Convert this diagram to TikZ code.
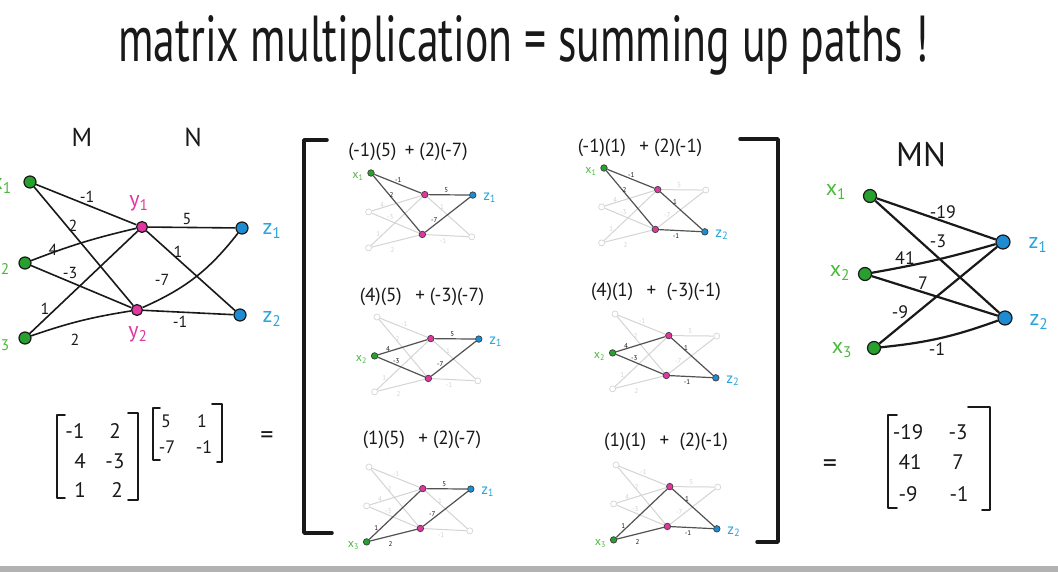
\documentclass[tikz,border=0pt]{standalone}
\usepackage{fontspec}
\setmainfont{PT Sans}
\usepackage{graphicx}
\pgfdeclarelayer{back}\pgfdeclarelayer{bg}\pgfsetlayers{back,bg,main}
\definecolor{xg}{RGB}{40,160,45}
\definecolor{xgl}{RGB}{75,185,60}
\definecolor{yp}{RGB}{225,55,160}
\definecolor{zb}{RGB}{30,140,210}
\definecolor{zbl}{RGB}{40,165,220}
\definecolor{ink}{RGB}{25,25,25}
\definecolor{pale}{RGB}{212,212,212}
\tikzset{
  every node/.style={inner sep=0pt, text=ink},
  bx/.style={circle, draw=ink, line width=1.2pt, fill=xg, minimum size=12pt},
  by/.style={bx, fill=yp, minimum size=11pt},
  bz/.style={bx, fill=zb},
  bedge/.style={draw=ink, line width=1.6pt},
  redge/.style={draw=ink, line width=2.2pt},
  blab/.style={font=\fontsize{16}{16}\selectfont},
  rlab/.style={font=\fontsize{18}{18}\selectfont},
  xlab/.style={font=\fontsize{22}{22}\selectfont, text=xgl},
  ylab/.style={font=\fontsize{22}{22}\selectfont, text=yp},
  zlab/.style={font=\fontsize{22}{22}\selectfont, text=zbl},
  head/.style={font=\fontsize{26}{26}\selectfont},
  mx/.style={circle, draw=ink!85, line width=0.7pt, fill=xg, minimum size=6.5pt},
  my/.style={mx, fill=yp},
  mz/.style={mx, fill=zb},
  mlo/.style={circle, draw=pale, line width=0.7pt, fill=white, minimum size=6pt},
  mhi/.style={draw=ink!75, line width=1.2pt},
  mloe/.style={draw=pale, line width=1pt},
  mlhi/.style={font=\fontsize{7}{7}\selectfont, text=ink},
  mllo/.style={font=\fontsize{7}{7}\selectfont, text=pale},
  mxlab/.style={font=\fontsize{12}{12}\selectfont, text=xgl},
  mzlab/.style={font=\fontsize{15}{15}\selectfont, text=zbl},
  expr/.style={font=\fontsize{19}{19}\selectfont},
  mat/.style={font=\fontsize{21}{21}\selectfont},
  brk/.style={draw=ink, line width=1.6pt, line cap=round, line join=round},
  bigbrk/.style={draw=ink, line width=3.5pt, line cap=round, line join=round}
}
% mini graph helpers
\newcommand\mnX[3]{\ifnum#1=#3\relax\node[mx] (x#1) at #2 {};\else\node[mlo] (x#1) at #2 {};\fi}
\newcommand\mnZ[3]{\ifnum#1=#3\relax\node[mz] (z#1) at #2 {};\else\node[mlo] (z#1) at #2 {};\fi}
\newcommand\mxy[5]{\ifnum#1=#3\relax
   \draw[mhi] (x#1) -- (y#2); \node[mlhi] (lx#1y#2) at #5 {#4};
  \else
   \begin{pgfonlayer}{bg}\draw[mloe] (x#1) -- (y#2);\end{pgfonlayer}
   \node[mllo] (lx#1y#2) at #5 {#4};\fi}
\newcommand\myz[5]{\ifnum#2=#3\relax
   \draw[mhi] (y#1) -- (z#2); \node[mlhi] (ly#1z#2) at #5 {#4};
  \else
   \begin{pgfonlayer}{bg}\draw[mloe] (y#1) -- (z#2);\end{pgfonlayer}
   \node[mllo] (ly#1z#2) at #5 {#4};\fi}
\newcommand\minigraph[4]{%
\begin{scope}[shift={#1}, scale=0.48, name prefix=#2-]
  \mnX{1}{(0,0)}{#3}
  \mnX{2}{(-5,81)}{#3}
  \mnX{3}{(-5,156)}{#3}
  \node[my] (y1) at (112,45) {};
  \node[my] (y2) at (107,128) {};
  \mnZ{1}{(212,46)}{#4}
  \mnZ{2}{(210,133)}{#4}
  \mxy{1}{1}{#3}{-1}{(57,14)}
  \mxy{1}{2}{#3}{2}{(43,45)}
  \mxy{2}{1}{#3}{4}{(23,66)}
  \mxy{2}{2}{#3}{-3}{(40,91)}
  \mxy{3}{1}{#3}{1}{(15,128)}
  \mxy{3}{2}{#3}{2}{(45,160)}
  \myz{1}{1}{#4}{5}{(157,36)}
  \myz{1}{2}{#4}{1}{(148,70)}
  \myz{2}{1}{#4}{-7}{(132,98)}
  \myz{2}{2}{#4}{-1}{(150,142)}
  \node[mxlab, anchor=east] (xl) at ([xshift=-8pt,yshift=-8pt]x#3.west) {x\textsubscript{#3}};
  \node[mzlab, anchor=west] (zl) at ([xshift=14pt,yshift=-6pt]z#4.east) {z\textsubscript{#4}};
\end{scope}}
\begin{document}
\begin{tikzpicture}[x=1pt,y=-1pt]
\useasboundingbox (0,0) rectangle (1058,572);
\begin{pgfonlayer}{back}
\fill[white] (0,0) rectangle (1058,572);
\fill[gray!60] (0,566) rectangle (1058,572);
\end{pgfonlayer}

% title
\node[anchor=base west] (title) at (118,62) {\resizebox{810pt}{46pt}{matrix multiplication = summing up paths !}};

% ---- left graph
\node[head] (M) at (82,137) {M};
\node[head] (N) at (193,137) {N};
\node[bx] (x1) at (30,182) {};
\node[bx] (x2) at (25,263) {};
\node[bx] (x3) at (25,338) {};
\node[by] (y1) at (142,227) {};
\node[by] (y2) at (137,310) {};
\node[bz] (z1) at (242,228) {};
\node[bz] (z2) at (240,315) {};
\draw[bedge] (x1) -- (y1);
\draw[bedge] (x1) -- (y2);
\draw[bedge] (x2) to[bend left=4] (y1);
\draw[bedge] (x2) -- (y2);
\draw[bedge] (x3) -- (y1);
\draw[bedge] (x3) to[bend left=5] (y2);
\draw[bedge] (y1) -- (z1);
\draw[bedge] (y1) -- (z2);
\draw[bedge] (y2) to[bend right=14] (z1);
\draw[bedge] (y2) -- (z2);
\node[blab] (l11) at (87,197) {-1};
\node[blab] (l12) at (73,226) {2};
\node[blab] (l21) at (53,250) {4};
\node[blab] (l22) at (70,273) {-3};
\node[blab] (l31) at (45,309) {1};
\node[blab] (l32) at (75,340) {2};
\node[blab] (m11) at (187,219) {5};
\node[blab] (m12) at (178,252) {1};
\node[blab] (m21) at (162,280) {-7};
\node[blab] (m22) at (180,322) {-1};
\node[xlab, anchor=east] (x1l) at (12,186) {x\textsubscript{1}};
\node[xlab, anchor=east] (x2l) at (10,267) {x\textsubscript{2}};
\node[xlab, anchor=east] (x3l) at (10,343) {x\textsubscript{3}};
\node[ylab] (y1l) at (139,203) {y\textsubscript{1}};
\node[ylab] (y2l) at (138,334) {y\textsubscript{2}};
\node[zlab] (z1l) at (272,231) {z\textsubscript{1}};
\node[zlab] (z2l) at (272,319) {z\textsubscript{2}};

% ---- left matrices
\draw[brk] (65,415) -- (57,415) -- (57,498) -- (65,498);
\draw[brk] (128,413) -- (138,413) -- (138,500) -- (128,500);
\node[mat] (a11) at (75,431) {-1};
\node[mat] (a12) at (115,431) {2};
\node[mat] (a21) at (80,461) {4};
\node[mat] (a22) at (115,461) {-3};
\node[mat] (a31) at (80,490) {1};
\node[mat] (a32) at (117,490) {2};
\draw[brk] (160,408) -- (153,408) -- (153,460) -- (160,460);
\draw[brk] (212,404) -- (222,404) -- (222,462) -- (217,462);
\node[mat, font=\fontsize{18}{18}\selectfont] (b11) at (166,421) {5};
\node[mat, font=\fontsize{18}{18}\selectfont] (b12) at (202,421) {1};
\node[mat, font=\fontsize{18}{18}\selectfont] (b21) at (167,447) {-7};
\node[mat, font=\fontsize{18}{18}\selectfont] (b22) at (204,447) {-1};
\node[mat, font=\fontsize{26}{26}\selectfont] (eq1) at (267,438) {=};

% ---- big bracket
\draw[bigbrk] (327,140) -- (304,140) -- (304,533) -- (332,533);
\draw[bigbrk] (740,139) -- (778,139) -- (778,542) -- (757,542);

% ---- mini graphs
\node[expr] (e11) at (408,152) {(-1)(5)\, + (2)(-7)};
\node[expr] (e12) at (640,148) {(-1)(1)\;\, + (2)(-1)};
\node[expr] (e21) at (422,297) {(4)(5)\;\, + (-3)(-7)};
\node[expr] (e22) at (656,292) {(4)(1)\;\, + \;(-3)(-1)};
\node[expr] (e31) at (422,440) {(1)(5)\;\, + (2)(-7)};
\node[expr] (e32) at (666,442) {(1)(1)\;\, + \;(2)(-1)};
\minigraph{(371,173)}{g11}{1}{1}
\minigraph{(604,168)}{g12}{1}{2}
\minigraph{(377,317)}{g21}{2}{1}
\minigraph{(615,314)}{g22}{2}{2}
\minigraph{(369,467)}{g31}{3}{1}
\minigraph{(616,465)}{g32}{3}{2}

% ---- right graph
\node[head, font=\fontsize{34}{34}\selectfont] (MN) at (921,155) {MN};
\node[bx, minimum size=13pt] (rx1) at (870,196) {};
\node[bx, minimum size=13pt] (rx2) at (865,274) {};
\node[bx, minimum size=13pt] (rx3) at (874,348) {};
\node[bz, minimum size=14pt] (rz1) at (1003,242) {};
\node[bz, minimum size=14pt] (rz2) at (1005,318) {};
\draw[redge] (rx1) -- (rz1);
\draw[redge] (rx1) -- (rz2);
\draw[redge] (rx2) to[bend right=3] (rz1);
\draw[redge] (rx2) -- (rz2);
\draw[redge] (rx3) -- (rz1);
\draw[redge] (rx3) to[bend right=7] (rz2);
\node[rlab] (r11) at (943,212) {-19};
\node[rlab] (r12) at (938,241) {-3};
\node[rlab] (r21) at (905,258) {41};
\node[rlab] (r22) at (923,283) {7};
\node[rlab] (r31) at (900,312) {-9};
\node[rlab] (r32) at (937,349) {-1};
\node[xlab] (rx1l) at (836,192) {x\textsubscript{1}};
\node[xlab] (rx2l) at (840,273) {x\textsubscript{2}};
\node[xlab] (rx3l) at (842,350) {x\textsubscript{3}};
\node[zlab] (rz1l) at (1038,245) {z\textsubscript{1}};
\node[zlab] (rz2l) at (1039,322) {z\textsubscript{2}};

% ---- result matrix
\node[mat, font=\fontsize{28}{28}\selectfont] (eq2) at (830,466) {=};
\draw[brk] (897,415) -- (888,415) -- (888,508) -- (897,508);
\draw[brk] (968,407) -- (990,407) -- (990,510) -- (982,510);
\node[mat] (c11) at (908,432) {-19};
\node[mat] (c12) at (958,432) {-3};
\node[mat] (c21) at (910,462) {41};
\node[mat] (c22) at (958,462) {7};
\node[mat] (c31) at (908,494) {-9};
\node[mat] (c32) at (959,494) {-1};
\end{tikzpicture}
\end{document}
